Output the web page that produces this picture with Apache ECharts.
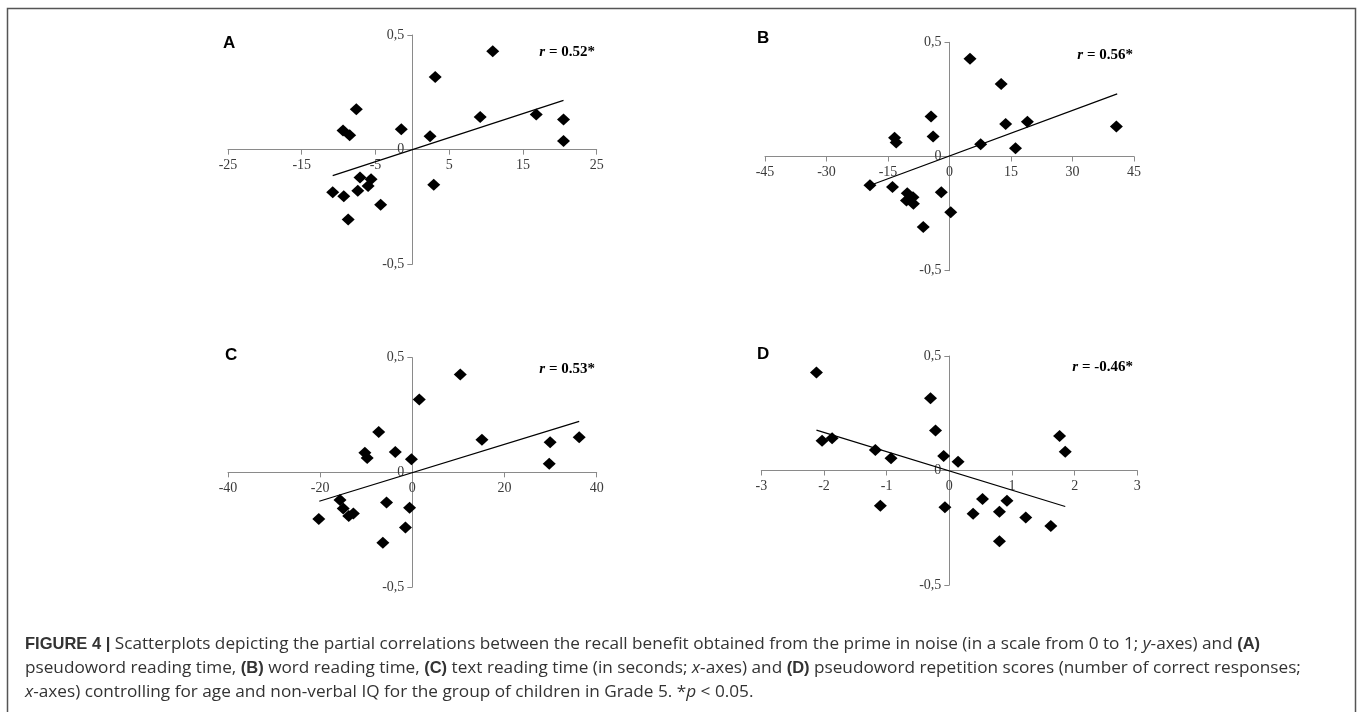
<!DOCTYPE html>
<html>
<head>
<meta charset="utf-8">
<script src="https://cdn.jsdelivr.net/npm/echarts@6/dist/echarts.min.js"></script>
<style>
html,body{margin:0;padding:0;background:#fff;}
#chart{width:1357px;height:712px;}
</style>
</head>
<body>
<div id="chart"></div>
<script>
// Panel A: pseudoword reading time
const aX = [10.9, 3.1, -7.6, -9.4, -8.5, -1.5, 2.4, 9.2, 16.8, 20.5, 20.5, -7.1, -5.6, -6.0, -7.4, -10.8, -9.3, -4.3, -8.7, 2.9];
const aY = [0.429, 0.317, 0.176, 0.084, 0.063, 0.089, 0.058, 0.142, 0.153, 0.132, 0.038, -0.121, -0.129, -0.158, -0.179, -0.186, -0.203, -0.240, -0.305, -0.153];
const aTrendX = [-10.8, 20.5];
const aTrendY = [-0.113, 0.215];

// Panel B: word reading time
const bX = [5.0, 12.6, -4.5, -4.0, -13.4, -13.0, 7.6, 13.7, 19.0, 16.1, 40.7, -19.4, -13.9, -10.3, -8.9, -10.5, -8.8, -2.0, 0.3, -6.4];
const bY = [0.428, 0.317, 0.175, 0.088, 0.082, 0.061, 0.054, 0.142, 0.152, 0.036, 0.131, -0.126, -0.134, -0.161, -0.178, -0.193, -0.207, -0.156, -0.244, -0.309];
const bTrendX = [-19.3, 40.9];
const bTrendY = [-0.126, 0.274];

// Panel C: text reading time
const cX = [10.4, 1.5, -7.3, 15.1, 36.2, 29.9, 29.7, -10.3, -9.8, -3.7, -0.2, -15.7, -15.0, -13.8, -12.8, -20.3, -5.6, -0.6, -1.5, -6.4];
const cY = [0.427, 0.318, 0.176, 0.142, 0.153, 0.131, 0.038, 0.086, 0.063, 0.089, 0.057, -0.121, -0.158, -0.190, -0.179, -0.203, -0.132, -0.154, -0.240, -0.307];
const cTrendX = [-20.2, 36.2];
const cTrendY = [-0.126, 0.222];

// Panel D: pseudoword repetition scores
const dX = [-2.12, -0.30, -0.22, -2.03, -1.87, -1.18, -0.93, -0.09, 0.14, 1.76, 1.85, -1.10, -0.07, 0.53, 0.92, 0.38, 0.80, 1.22, 1.62, 0.80];
const dY = [0.428, 0.316, 0.175, 0.130, 0.141, 0.089, 0.054, 0.063, 0.038, 0.151, 0.082, -0.154, -0.160, -0.124, -0.132, -0.189, -0.180, -0.205, -0.242, -0.309];
const dTrendX = [-2.12, 1.85];
const dTrendY = [0.176, -0.157];

const panelLetters = ['A', 'B', 'C', 'D'];
const rLabels = ['0.52*', '0.56*', '0.53*', '-0.46*'];
const xMins = [-25, -45, -40, -3];
const xMaxs = [25, 45, 40, 3];
const xIntervals = [10, 15, 20, 1];
const yMin = -0.5, yMax = 0.5, yInterval = 0.5;

const captionLines = [
  '{b|FIGURE 4 |} Scatterplots depicting the partial correlations between the recall benefit obtained from the prime in noise (in a scale from 0 to 1; {i|y}-axes) and {b|(A)}',
  'pseudoword reading time, {b|(B)} word reading time, {b|(C)} text reading time (in seconds; {i|x}-axes) and {b|(D)} pseudoword repetition scores (number of correct responses;',
  '{i|x}-axes) controlling for age and non-verbal IQ for the group of children in Grade 5. *{i|p} < 0.05.'
];

const xs = [aX, bX, cX, dX];
const ys = [aY, bY, cY, dY];
const tXs = [aTrendX, bTrendX, cTrendX, dTrendX];
const tYs = [aTrendY, bTrendY, cTrendY, dTrendY];

// layout
const grids = [
  {left: 228, top: 35, width: 368.7, height: 229.3},
  {left: 765, top: 42.3, width: 369, height: 228.4},
  {left: 228, top: 357.7, width: 368.7, height: 229.3},
  {left: 761.3, top: 356, width: 376, height: 229}
];
const letterPos = [[223, 44], [757, 39], [225, 356], [757, 354.5]];
const rPos = [[595, 52], [1133, 55], [595, 369], [1133, 367]];

const axisColor = '#8a8a8a';
const labelColor = '#3a3a3a';
const serif = '"Liberation Serif", "Times New Roman", serif';
const sans = '"Liberation Sans", Arial, Helvetica, sans-serif';
const capSans = '"Open Sans", "Liberation Sans", Arial, sans-serif';

// offset that places each axis on the other axis's zero
function zeroOffsetX(i) {
  const g = grids[i];
  return -g.height * (0 - yMin) / (yMax - yMin);
}
function zeroOffsetY(i) {
  const g = grids[i];
  return -g.width * (0 - xMins[i]) / (xMaxs[i] - xMins[i]);
}

const option = {
  animation: false,
  backgroundColor: '#fff',
  grid: grids.map(g => Object.assign({containLabel: false, outerBoundsMode: 'none'}, g)),
  xAxis: grids.map((g, i) => ({
    type: 'value', gridIndex: i, position: 'bottom', offset: zeroOffsetX(i),
    min: xMins[i], max: xMaxs[i], interval: xIntervals[i],
    axisLine: {show: true, onZero: false, lineStyle: {color: axisColor, width: 1}},
    axisTick: {show: true, inside: false, length: 5, lineStyle: {color: axisColor}},
    splitLine: {show: false},
    axisLabel: {color: labelColor, fontFamily: serif, fontSize: 14, margin: 9}
  })),
  yAxis: grids.map((g, i) => ({
    type: 'value', gridIndex: i, position: 'left', offset: zeroOffsetY(i),
    min: yMin, max: yMax, interval: yInterval,
    axisLine: {show: true, onZero: false, lineStyle: {color: axisColor, width: 1}},
    axisTick: {show: true, inside: false, length: 5, lineStyle: {color: axisColor}},
    splitLine: {show: false},
    axisLabel: {color: labelColor, fontFamily: serif, fontSize: 14, margin: 8,
      formatter: v => String(v).replace('.', ',')}
  })),
  series: [],
  graphic: []
};

for (let i = 0; i < 4; i++) {
  option.series.push({
    type: 'line', xAxisIndex: i, yAxisIndex: i,
    data: tXs[i].map((x, k) => [x, tYs[i][k]]),
    showSymbol: false, symbol: 'none',
    lineStyle: {color: '#000', width: 1.2},
    z: 2, silent: true
  });
  option.series.push({
    type: 'scatter', xAxisIndex: i, yAxisIndex: i,
    data: xs[i].map((x, k) => [x, ys[i][k]]),
    symbol: 'diamond', symbolSize: [13, 12],
    itemStyle: {color: '#000', opacity: 1},
    z: 3
  });
  option.graphic.push({
    type: 'text', left: letterPos[i][0], top: letterPos[i][1] - 9,
    style: {text: panelLetters[i], font: 'bold 17px ' + sans, fill: '#000'}
  });
  option.graphic.push({
    type: 'text', x: rPos[i][0], y: rPos[i][1],
    style: {
      text: '{it|r}{bd| = ' + rLabels[i] + '}',
      align: 'right', verticalAlign: 'middle',
      rich: {
        it: {font: 'italic bold 15px ' + serif, fill: '#000'},
        bd: {font: 'bold 15px ' + serif, fill: '#000'}
      }
    }
  });
}

// figure frame
option.graphic.push({
  type: 'rect', shape: {x: 7.5, y: 8.5, width: 1348, height: 730},
  style: {fill: 'none', stroke: '#555', lineWidth: 1.5}, silent: true
});

const capY = [644, 668, 692];
captionLines.forEach((t, k) => {
  option.graphic.push({
    type: 'text', x: 25, y: capY[k],
    style: {
      text: t, verticalAlign: 'middle', align: 'left',
      font: '17.2px ' + capSans, fill: '#333',
      rich: {
        b: {font: 'bold 16.5px ' + sans, fill: '#333'},
        i: {font: 'italic 17.2px ' + capSans, fill: '#333'}
      }
    }
  });
});

const chart = echarts.init(document.getElementById('chart'), null, {renderer: 'canvas'});
chart.setOption(option);
</script>
</body>
</html>
